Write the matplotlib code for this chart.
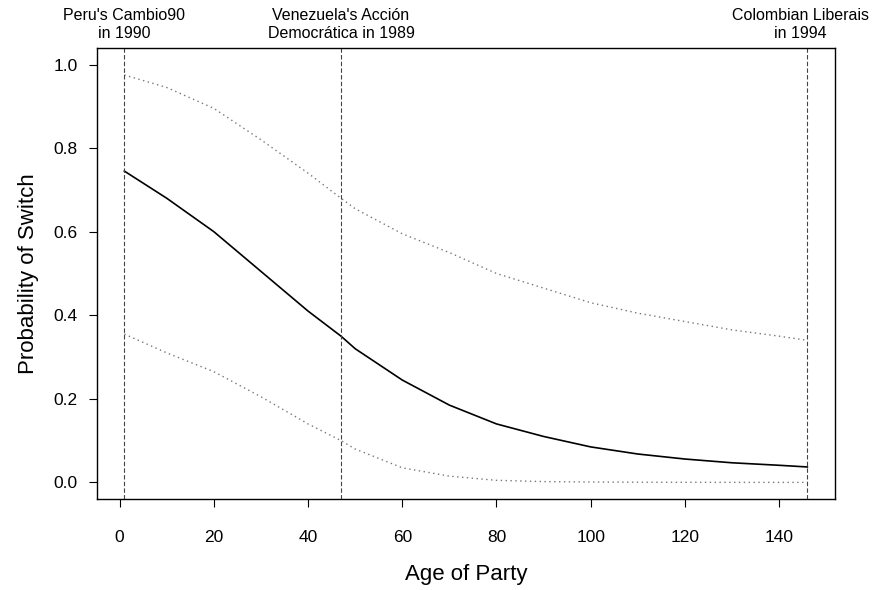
import matplotlib
matplotlib.use("Agg")
import matplotlib.pyplot as plt

plt.rcParams['font.family'] = ['Liberation Sans', 'DejaVu Sans']

# predicted probability of switching, with confidence band
age = [1, 10, 20, 30, 40, 47, 50, 60, 70, 80, 90, 100, 110, 120, 130, 140, 146]
prob = [0.745, 0.68, 0.60, 0.505, 0.41, 0.35, 0.32, 0.245, 0.185, 0.14, 0.11,
        0.085, 0.068, 0.056, 0.047, 0.041, 0.037]
upper = [0.975, 0.945, 0.895, 0.82, 0.74, 0.68, 0.655, 0.595, 0.55, 0.50, 0.465,
         0.43, 0.405, 0.385, 0.365, 0.35, 0.34]
lower = [0.355, 0.31, 0.265, 0.205, 0.14, 0.10, 0.08, 0.035, 0.015, 0.005, 0.002,
         0.001, 0.0005, 0.0003, 0.0002, 0.0001, 0.0001]

# reference cases marked by vertical lines
case_age = [1, 47, 146]
case_label = ["Peru's Cambio90\nin 1990",
              "Venezuela's Acción\nDemocrática in 1989",
              "Colombian Liberais\nin 1994"]
label_x = [1, 47, 144.5]

xticks = [0, 20, 40, 60, 80, 100, 120, 140]
yticks = [0.0, 0.2, 0.4, 0.6, 0.8, 1.0]

fig = plt.figure(figsize=(8.74, 5.90), dpi=100)
ax = fig.add_axes([0.111, 0.154, 0.844, 0.765])

ax.plot(age, prob, color='black', lw=1.2)
ax.plot(age, upper, color='#777777', lw=1.0, linestyle=(0, (1, 2.5)))
ax.plot(age, lower, color='#777777', lw=1.0, linestyle=(0, (1, 2.5)))

for a in case_age:
    ax.axvline(a, color='#444444', lw=0.8, linestyle=(0, (4, 2)))

ax.set_xlim(-4.8, 151.8)
ax.set_ylim(-0.04, 1.04)

for lx, txt in zip(label_x, case_label):
    ax.annotate(txt, xy=(lx, 1.04), xytext=(0, 5), textcoords='offset points',
                ha='center', va='bottom', fontsize=11.5, linespacing=1.2,
                annotation_clip=False)

ax.set_xticks(xticks)
ax.set_yticks(yticks)
ax.set_yticklabels(["%.1f" % v for v in yticks])
ax.tick_params(direction='out', length=6, width=0.8, labelsize=12.5)
ax.tick_params(axis='x', pad=16)
ax.tick_params(axis='y', pad=8)

for s in ax.spines.values():
    s.set_linewidth(1.0)

ax.set_xlabel("Age of Party", fontsize=16, labelpad=14)
ax.set_ylabel("Probability of Switch", fontsize=16, labelpad=10)

fig.savefig("out.png", dpi=100)
